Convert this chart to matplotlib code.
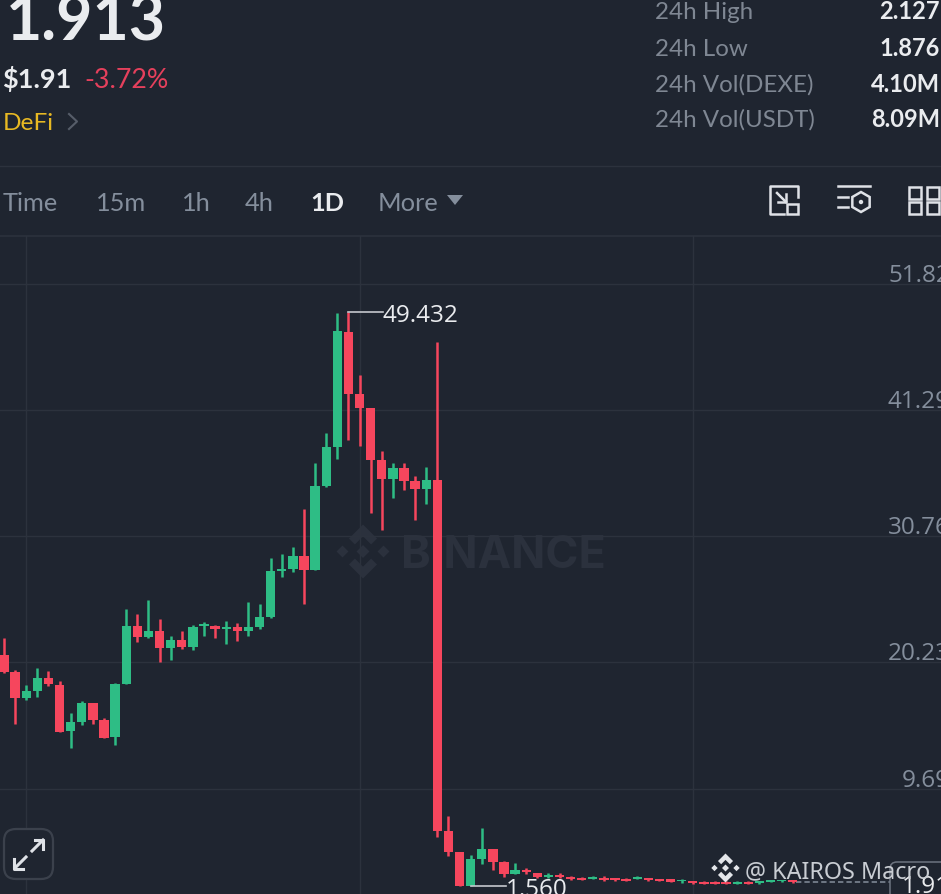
"""
plot.py
DEXE/USDT daily candles, mobile exchange screen.
Saves: out.png
"""

import matplotlib
matplotlib.use("Agg")
import matplotlib.pyplot as plt
from matplotlib.patches import Polygon, Rectangle, FancyBboxPatch, RegularPolygon, Circle

# ---------------------------------------------------------------------------
# DATA
# ---------------------------------------------------------------------------

opens = [20.87, 19.43, 17.23, 17.81, 18.90, 18.37, 14.48, 15.23, 16.85, 15.43, 13.98, 18.46,
         23.29, 22.32, 22.85, 21.40, 22.13, 21.54, 23.24, 23.24, 22.99, 23.18, 22.85, 23.18,
         24.02, 27.86, 28.05, 29.07, 27.97, 34.91, 38.17, 47.82, 42.62, 41.42, 37.11, 35.50,
         36.45, 35.33, 34.66, 35.45, 6.14, 4.39, 1.61, 3.86, 4.67, 3.55, 2.55, 2.94,
         2.66, 2.33, 2.53, 2.33, 2.25, 2.19, 2.22, 2.17, 2.17, 2.19, 2.22, 2.14,
         2.14, 1.95, 1.97, 1.92, 1.92, 1.84, 1.78, 1.92, 1.84, 1.92, 1.95, 2.08]
closes = [19.40, 17.23, 17.81, 18.90, 18.40, 14.45, 15.23, 16.85, 15.43, 13.95, 18.46, 23.29,
          22.32, 22.85, 21.40, 22.13, 21.54, 23.21, 23.40, 23.04, 23.18, 22.85, 23.18, 24.02,
          27.82, 28.05, 29.07, 27.97, 34.97, 38.17, 47.84, 42.62, 41.42, 37.11, 35.50, 36.45,
          35.33, 34.66, 35.45, 6.14, 4.39, 1.61, 3.86, 4.67, 3.55, 2.55, 2.92, 2.72,
          2.33, 2.53, 2.30, 2.17, 2.11, 2.33, 2.05, 2.05, 2.02, 2.33, 2.05, 2.00,
          1.92, 2.08, 1.80, 1.78, 1.75, 1.73, 1.92, 1.78, 2.00, 2.08, 2.08, 1.913]
highs = [22.29, 19.62, 18.37, 19.77, 19.48, 18.68, 16.01, 17.04, 16.85, 15.59, 18.54, 24.69,
         24.27, 25.46, 23.85, 22.46, 22.88, 23.38, 23.60, 23.38, 23.65, 23.54, 25.27, 25.10,
         28.94, 29.30, 29.86, 33.05, 36.86, 39.37, 49.38, 49.432, 44.23, 41.48, 37.89, 36.86,
         36.86, 35.81, 36.53, 46.92, 7.45, 4.39, 4.19, 6.42, 4.69, 3.63, 3.53, 3.11,
         2.69, 2.69, 2.63, 2.44, 2.30, 2.38, 2.44, 2.24, 2.22, 2.38, 2.24, 2.14,
         2.14, 2.17, 2.00, 1.95, 1.95, 2.02, 1.95, 1.95, 2.02, 2.10, 2.10, 2.08]
lows = [19.37, 15.09, 17.06, 17.37, 18.23, 14.43, 13.06, 14.98, 15.09, 13.93, 13.34, 18.40,
        21.90, 22.29, 20.27, 20.46, 21.32, 21.23, 22.46, 22.29, 21.73, 22.02, 22.46, 22.99,
        23.96, 27.36, 27.80, 25.07, 27.97, 34.83, 37.20, 38.81, 38.25, 32.69, 31.30, 33.91,
        34.58, 32.08, 33.44, 5.64, 4.08, 1.56, 1.56, 3.38, 2.88, 2.36, 2.55, 2.61,
        2.28, 2.22, 2.28, 2.11, 2.09, 2.17, 2.03, 2.00, 2.00, 2.14, 2.03, 1.98,
        1.90, 1.84, 1.78, 1.76, 1.73, 1.70, 1.76, 1.76, 1.70, 1.90, 1.92, 1.84]

price_ticks = [51.82, 41.29, 30.76, 20.23, 9.69]
price_labels = ["51.82", "41.29", "30.76", "20.23", "9.69"]
grid_days = [2, 32, 62]
peak_label, peak_day, peak_price = "49.432", 31, 49.432
trough_label, trough_day, trough_price = "1.560", 42, 1.56
last_label, last_price = "1.913", 1.913

tabs = ["Time", "15m", "1h", "4h", "1D", "More"]
stat_names = ["24h High", "24h Low", "24h Vol(DEXE)", "24h Vol(USDT)"]
stat_values = ["2.127", "1.876", "4.10M", "8.09M"]

# ---------------------------------------------------------------------------
# STYLE
# ---------------------------------------------------------------------------

BG = "#1f2530"
GRID = "#2c323d"
GREEN = "#2ebd85"
RED = "#f6465d"
GRAY = "#848e9c"
WHITE = "#eaecef"
UI_FONT = "Lato"
CHART_FONT = "Open Sans"

W, H = 941, 895
CHART_TOP = 237
FIRST_GRID_Y = 284.6
PX_PER_DAY = 11.11
PX_PER_PRICE = 1 / 0.08341

fig = plt.figure(figsize=(W / 100, H / 100), dpi=100, facecolor=BG)


def pixel_axes(zorder):
    a = fig.add_axes([0, 0, 1, 1], zorder=zorder)
    a.set_xlim(0, W)
    a.set_ylim(H, 0)
    a.axis("off")
    return a


def binance_logo(a, cx, cy, s, color, zorder=3):
    shapes = [
        [(0, -1), (.52, -.48), (.3, -.26), (0, -.56), (-.3, -.26), (-.52, -.48)],
        [(0, 1), (.52, .48), (.3, .26), (0, .56), (-.3, .26), (-.52, .48)],
        [(0, -.24), (.24, 0), (0, .24), (-.24, 0)],
        [(-.76, -.22), (-.54, 0), (-.76, .22), (-.98, 0)],
        [(.76, -.22), (.98, 0), (.76, .22), (.54, 0)],
    ]
    for pts in shapes:
        a.add_patch(Polygon([(cx + x * s, cy + y * s) for x, y in pts], color=color, lw=0, zorder=zorder))


# ---------------------------------------------------------------------------
# BACK LAYER: header and watermark
# ---------------------------------------------------------------------------

ui = pixel_axes(0)

ui.text(6, 40, "1.913", fontsize=45, fontweight="bold", color=WHITE, family=UI_FONT, va="baseline")
ui.text(2, 88, "$1.91", fontsize=19.5, fontweight="bold", color=WHITE, family=UI_FONT, va="baseline")
ui.text(84, 88, "-3.72%", fontsize=19.3, color="#e5405c", family=UI_FONT, va="baseline")
ui.text(3, 130, "DeFi", fontsize=17.6, color="#e8b923", family=UI_FONT, va="baseline")
ui.plot([69, 77, 69], [115, 122.5, 130], color="#565d69", lw=1.5)

ui.axhline(166.5, color=GRID, lw=1)
ui.axhline(236.5, color=GRID, lw=1.2)

tab_x = [3, 96, 182, 245, 310, 378]
for name, x in zip(tabs, tab_x):
    active = name == "1D"
    ui.text(x, 211, name, fontsize=18.3, color=WHITE if active else GRAY,
            fontweight="bold" if active else "normal", family=UI_FONT, va="baseline")
ui.add_patch(Polygon([(447, 196), (463, 196), (455, 206)], color=GRAY, lw=0))

stat_y = [19, 56, 92, 127]
for name, value, y in zip(stat_names, stat_values, stat_y):
    ui.text(655, y, name, fontsize=17.4, color="#7f8793", family=UI_FONT, va="baseline")
    ui.text(940, y, value, fontsize=17, fontweight="bold", color=WHITE, family=UI_FONT,
            ha="right", va="baseline")

# toolbar icons
ICON = "#dfe2e7"
ui.plot([784, 770, 770, 798, 798], [215, 215, 187, 187, 198], color=ICON, lw=1.8, solid_joinstyle="round")
ui.add_patch(Rectangle((787, 205), 11, 10, fill=False, ec=ICON, lw=1.8))
ui.plot([777, 786], [194, 203], color=ICON, lw=1.8)
ui.plot([778, 786, 786], [203, 203, 195], color=ICON, lw=1.8)
ui.plot([838, 870], [187, 187], color=ICON, lw=1.8)
ui.plot([838, 848], [198, 198], color=ICON, lw=1.8)
ui.plot([838, 848], [208, 208], color=ICON, lw=1.8)
ui.add_patch(RegularPolygon((861, 203), 6, radius=10, fill=False, ec=ICON, lw=1.8))
ui.add_patch(Circle((861, 203), 2.2, color=ICON, lw=0))
for x in (909.5, 927):
    for y in (187.5, 203):
        ui.add_patch(Rectangle((x, y), 12, 12, fill=False, ec=ICON, lw=1.8))

# watermark sits behind the candles
WM = "#2b313d"
binance_logo(ui, 363, 552.5, 27, WM)
ui.text(401, 568, "BINANCE", fontsize=32.3, fontweight="bold", color=WM, family="Inter", va="baseline")

# ---------------------------------------------------------------------------
# CANDLES
# ---------------------------------------------------------------------------

ax = fig.add_axes([0, 0, 1, (H - CHART_TOP) / H], zorder=1)
ax.patch.set_alpha(0)
ax.set_xlim(-4 / PX_PER_DAY, (W - 4) / PX_PER_DAY)
ax.set_ylim(price_ticks[0] - (H - FIRST_GRID_Y) / PX_PER_PRICE,
            price_ticks[0] + (FIRST_GRID_Y - CHART_TOP) / PX_PER_PRICE)
for s in ax.spines.values():
    s.set_visible(False)
ax.set_xticks(grid_days)
ax.set_yticks(price_ticks)
ax.tick_params(length=0, labelbottom=False, labelleft=False)
ax.grid(True, color=GRID, lw=1)
ax.set_axisbelow(True)

days = list(range(len(opens)))
colors = [GREEN if c >= o else RED for o, c in zip(opens, closes)]
bottoms = [min(o, c) for o, c in zip(opens, closes)]
heights = [max(abs(c - o), 0.16) for o, c in zip(opens, closes)]
ax.vlines(days, lows, highs, colors=colors, lw=1.8, zorder=3)
ax.bar(days, heights, bottom=bottoms, width=0.84, color=colors, lw=0, zorder=3)

for tick, label in zip(price_ticks, price_labels):
    ax.annotate(label, (1, tick), xycoords=ax.get_yaxis_transform(), xytext=(9, 3),
                textcoords="offset pixels", ha="right", va="baseline", fontsize=17.5,
                color=GRAY, family=CHART_FONT, annotation_clip=False)

# peak / trough call-outs
LEADER = "#c5c8ce"
ax.plot([peak_day, peak_day + 3.07], [peak_price, peak_price], color=LEADER, lw=1.2, zorder=4)
ax.text(peak_day + 3.1, peak_price, peak_label, fontsize=17.5, color=WHITE, family=CHART_FONT,
        va="center_baseline", zorder=4)
ax.plot([trough_day, trough_day + 3.15], [trough_price, trough_price], color=LEADER, lw=1.2, zorder=4)
ax.text(trough_day + 3.2, trough_price, trough_label, fontsize=17.5, color=WHITE, family=CHART_FONT,
        va="center_baseline", zorder=4, clip_on=True)

# last price marker
ax.plot([len(days) - 1 + 0.3, len(days) + 8.4], [last_price, last_price], color=GRAY, lw=1.1,
        ls=(0, (3.5, 2)), zorder=2)

# ---------------------------------------------------------------------------
# FRONT LAYER: overlays
# ---------------------------------------------------------------------------

top = pixel_axes(2)
top.patch.set_alpha(0)

top.add_patch(FancyBboxPatch((890, 863), 80, 60, boxstyle="round,pad=0,rounding_size=7",
                             fc=BG, ec="#6d7480", lw=1.1))
top.text(902, 884.5, last_label, fontsize=17.5, color=WHITE, family=CHART_FONT, va="center_baseline")

binance_logo(top, 725.5, 869, 14.5, "#e4e6ea")
top.text(745, 878, "@ KAIROS Macro", fontsize=16.8, color="#c9cdd3", family="Noto Sans", va="baseline")

top.add_patch(FancyBboxPatch((4, 830), 49, 50, boxstyle="round,pad=0,rounding_size=12",
                             fc=BG, ec="#3b414c", lw=1.6))
top.plot([32, 43], [852, 841], color=ICON, lw=2.2)
top.plot([35, 43.5, 43.5], [841, 841, 850], color=ICON, lw=2.2)
top.plot([26, 15], [858, 869], color=ICON, lw=2.2)
top.plot([14.5, 14.5, 23], [860, 869.5, 869.5], color=ICON, lw=2.2)

fig.savefig("out.png", dpi=100, facecolor=BG)
